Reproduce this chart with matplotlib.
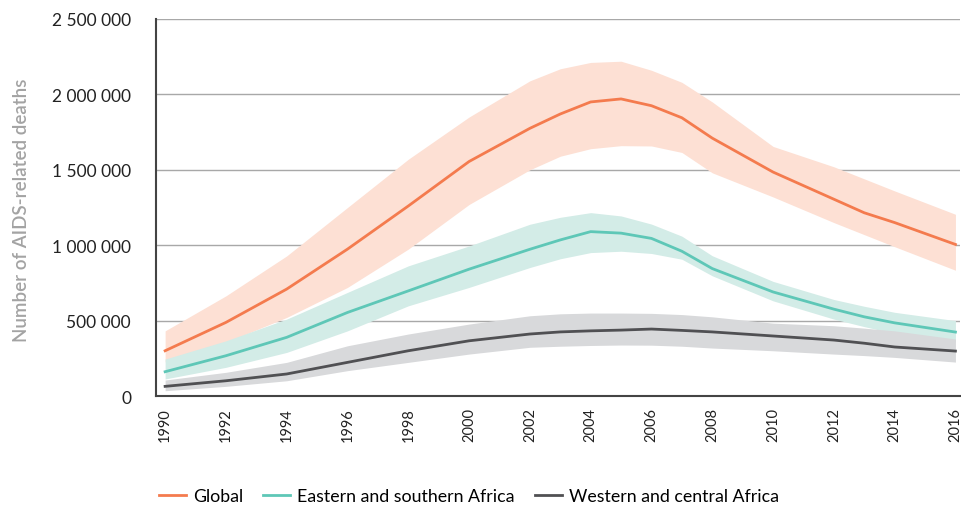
import matplotlib.pyplot as plt
from matplotlib.ticker import FuncFormatter

plt.rcParams['font.family'] = ['Lato', 'DejaVu Sans']

years = [1990, 1992, 1994, 1996, 1998, 2000, 2002, 2003, 2004, 2005,
         2006, 2007, 2008, 2010, 2012, 2013, 2014, 2016]

# values in thousands
global_est = [300, 488, 709, 974, 1260, 1555, 1775, 1870, 1950, 1970,
              1925, 1845, 1710, 1485, 1305, 1215, 1150, 1005]
global_hi = [432, 664, 929, 1250, 1570, 1850, 2090, 2170, 2212, 2220,
             2160, 2080, 1950, 1655, 1520, 1440, 1360, 1205]
global_lo = [227, 356, 521, 720, 974, 1270, 1500, 1590, 1640, 1660,
             1658, 1615, 1480, 1320, 1150, 1070, 990, 834]

esa_est = [161, 267, 389, 554, 697, 841, 973, 1035, 1090, 1080,
           1045, 960, 845, 690, 576, 525, 485, 424]
esa_hi = [245, 366, 510, 687, 863, 995, 1139, 1185, 1216, 1194,
          1140, 1060, 930, 760, 640, 595, 555, 500]
esa_lo = [113, 190, 289, 432, 598, 720, 852, 910, 951, 960,
          945, 907, 797, 631, 510, 460, 415, 358]

wca_est = [64, 101, 146, 223, 300, 366, 411, 425, 432, 437,
           444, 435, 425, 398, 371, 350, 325, 298]
wca_hi = [106, 157, 223, 333, 411, 477, 532, 545, 550, 550,
          548, 540, 525, 483, 466, 450, 432, 378]
wca_lo = [35, 64, 101, 168, 223, 278, 323, 330, 335, 338,
          337, 330, 318, 300, 278, 268, 256, 225]

x_ticks = list(range(1990, 2017, 2))
y_ticks = [0, 500000, 1000000, 1500000, 2000000, 2500000]

series = [
    ('Global', global_est, global_hi, global_lo, '#F47B4E', '#FDE0D4'),
    ('Eastern and southern Africa', esa_est, esa_hi, esa_lo, '#5EC7B7', '#D3ECE7'),
    ('Western and central Africa', wca_est, wca_hi, wca_lo, '#505053', '#D8D9DB'),
]

fig = plt.figure(figsize=(9.61, 5.06), dpi=100)
ax = fig.add_axes([156 / 961, 1 - 397 / 506, 804 / 961, 377 / 506])

for name, est, hi, lo, col, band in series:
    ax.fill_between(years, [a * 1000 for a in lo], [a * 1000 for a in hi],
                    color=band, lw=0, zorder=1)
for name, est, hi, lo, col, band in series:
    ax.plot(years, [a * 1000 for a in est], color=col, lw=2, label=name, zorder=3)

ax.set_xlim(1989.7, 2016.15)
ax.set_ylim(0, 2500000)
ax.set_xticks(x_ticks)
ax.set_xticklabels([str(y) for y in x_ticks], rotation=90, fontsize=10.5, color='#222222')
ax.set_yticks(y_ticks)
ax.yaxis.set_major_formatter(FuncFormatter(lambda v, p: f'{int(v):,}'.replace(',', ' ')))
ax.tick_params(axis='y', labelsize=12.5, colors='#222222', length=0, pad=18)
ax.tick_params(axis='x', length=0, pad=8)
ax.grid(axis='y', color='#A8A8A8', lw=1, zorder=0)
ax.set_axisbelow(True)
for s in ['top', 'right']:
    ax.spines[s].set_visible(False)
for s in ['left', 'bottom']:
    ax.spines[s].set_color('#444444')
    ax.spines[s].set_linewidth(1.5)

fig.text(22 / 961, 1 - 210 / 506, 'Number of AIDS-related deaths', rotation=90,
         ha='center', va='center', fontsize=13.5, fontweight='semibold', color='#A3A3A3')

fig.legend(loc='center', bbox_to_anchor=(469 / 961, 1 - 497 / 506), ncol=3,
           frameon=False, fontsize=12.8, handlelength=1.5, handletextpad=0.4,
           columnspacing=1.15)

fig.savefig('out.png', dpi=100)
